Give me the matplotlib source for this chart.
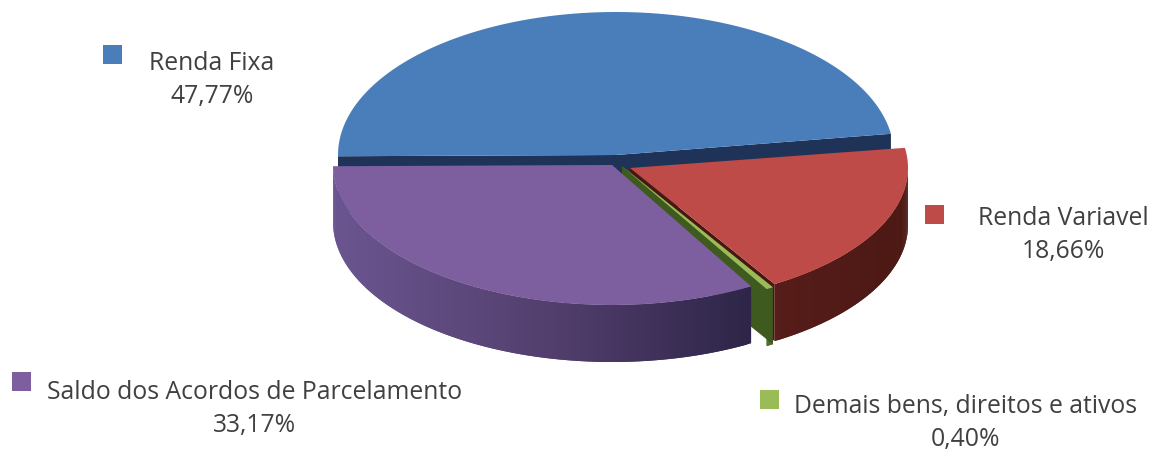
#3D looking pie chart, built by hand because matplotlib pie has no depth
import numpy as np
import matplotlib
matplotlib.use('Agg')
import matplotlib.pyplot as plt
from matplotlib.patches import Rectangle

#data
labels = ['Renda Fixa', 'Renda Variavel', 'Demais bens, direitos e ativos', 'Saldo dos Acordos de Parcelamento']
values = [47.77, 18.66, 0.40, 33.17]
value_text = ['47,77%', '18,66%', '0,40%', '33,17%']

#style, in pixels of the 1155x450 picture
top_colors = ['#4a7ebb', '#be4b48', '#9bbb59', '#7d5fa0']
side_stops = [['#1f3358', '#1f3358'],
              ['#561d19', '#4c1814'],
              ['#3f5a1e', '#3f5a1e'],
              ['#6b5590', '#54406f', '#2e2548']]
wall_colors = ['#1f3358', '#4a1612', '#3f5a1e', '#2e2548']
centers = [(616, 155), (630, 168), (622, 166), (612, 165)]
radii = [(278, 143), (278, 136), (290, 142), (279, 140)]
depth = 57
start_angle = 180.5

text_pos = [(212, 80), (1063, 235), (966, 423), (255, 409)]
square_pos = [(103, 45), (925, 205), (760, 390), (12, 372)]

fig = plt.figure(figsize=(11.55, 4.5), dpi=100)
ax = fig.add_axes([0, 0, 1, 1])
ax.set_xlim(0, 1155)
ax.set_ylim(450, 0)
ax.axis('off')

#angles of each slice from the values
fractions = np.array(values) / sum(values) * 360
ends = start_angle - np.cumsum(fractions)
starts = ends + fractions


def point(i, ang):
    a = np.radians(ang)
    return centers[i][0] + radii[i][0] * np.cos(a), centers[i][1] - radii[i][1] * np.sin(a)


def wall(i, ang):
    #flat wall from the centre to the edge at angle ang
    x1, y1 = centers[i]
    x2, y2 = point(i, ang)
    ax.fill([x1, x2, x2, x1], [y1, y2, y2 + depth, y1 + depth], color=wall_colors[i], lw=0)


def side(i):
    #outer wall in small overlapping pieces, the colour follows x on the screen
    first = min(starts[i], 0) if starts[i] < 180 else starts[i]
    angs = np.linspace(first, ends[i], 120)
    xs = np.array([point(i, a)[0] for a in angs])
    ys = np.array([point(i, a)[1] for a in angs])
    stops = np.array([matplotlib.colors.to_rgb(c) for c in side_stops[i]])
    t = (xs - xs.min()) / (xs.max() - xs.min() + 1e-9)
    pos = np.linspace(0, 1, len(stops))
    for k in range(len(angs) - 2):
        col = [np.interp(t[k], pos, stops[:, c]) for c in range(3)]
        ax.fill([xs[k], xs[k + 2], xs[k + 2], xs[k]], [ys[k], ys[k + 2], ys[k + 2] + depth, ys[k] + depth],
                color=col, lw=0)


def top(i):
    angs = np.linspace(starts[i], ends[i], 200)
    px = [point(i, a) for a in angs]
    xs = [centers[i][0]] + [p[0] for p in px]
    ys = [centers[i][1]] + [p[1] for p in px]
    ax.fill(xs, ys, color=top_colors[i], lw=0)


#painter order: blue at the back, red cut wall, green, purple, red
wall(0, starts[0])
wall(0, ends[0])
top(0)
wall(1, ends[1])
wall(2, starts[2])
side(2)
top(2)
side(3)
top(3)
side(1)
top(1)

#labels and their coloured squares
for i in range(4):
    x, y = square_pos[i]
    ax.add_patch(Rectangle((x, y), 19, 19, color=top_colors[i], lw=0))
    ax.text(text_pos[i][0], text_pos[i][1], labels[i] + '\n' + value_text[i], ha='center', va='center',
            ma='center', fontsize=17.8, family='Open Sans', color='#404040', linespacing=1.4)

fig.savefig('out.png', dpi=100)
